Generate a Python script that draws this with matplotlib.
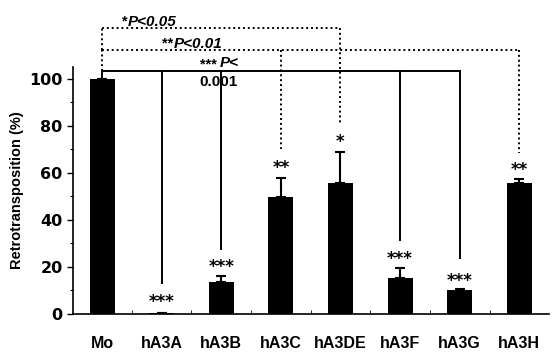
import numpy as np
import matplotlib.pyplot as plt

# Retrotransposition relative to Mo control
labels = ['Mo', 'hA3A', 'hA3B', 'hA3C', 'hA3DE', 'hA3F', 'hA3G', 'hA3H']
values = [100, 0.5, 13.6, 49.8, 55.5, 15.3, 10.2, 55.5]
errors = [0, 0, 2.6, 8.0, 13.5, 4.3, 0.3, 1.8]
stars = ['', '***', '***', '**', '*', '***', '***', '**']
star_y = [None, 6.8, 21.7, 64, 75, 25, 16, 63]

plt.rcParams['font.family'] = ['Liberation Sans', 'DejaVu Sans']
plt.rcParams['font.weight'] = 'bold'

fig = plt.figure(figsize=(5.53, 3.54), dpi=100)
ax = fig.add_axes([0.132, 0.113, 0.861, 0.698])

x = np.arange(len(labels))
ax.bar(x, values, width=0.42, color='black', zorder=2)
ax.errorbar(x, values, yerr=[np.zeros(len(errors)), errors], fmt='none',
            ecolor='black', elinewidth=1.5, capsize=3.5, capthick=1.5, zorder=1)

# asterisk glyphs sit high in the text box, so shift them down a bit
for i, s in enumerate(stars):
    if s:
        ax.text(x[i], star_y[i] - 1.8, s, ha='center', va='center', fontsize=12,
                fontweight='bold', family='DejaVu Sans')

ax.set_xlim(-0.487, 7.5)
ax.set_ylim(0, 105)
ax.set_yticks([0, 20, 40, 60, 80, 100])
ax.set_yticks([10, 30, 50, 70, 90], minor=True)
ax.set_xticks(x)
ax.set_xticklabels(labels, fontsize=11.5, fontweight='bold')
ax.set_xticks(x[:-1] + 0.5, minor=True)
ax.tick_params(axis='x', which='major', length=0, pad=16)
ax.tick_params(axis='x', which='minor', direction='in', length=3)
ax.tick_params(axis='y', which='major', length=4, width=1, labelsize=11.5)
ax.tick_params(axis='y', which='minor', length=2.5, width=0.8)
for lab in ax.get_yticklabels():
    lab.set_fontweight('bold')
    lab.set_family('DejaVu Sans')
ax.set_ylabel('Retrotransposition (%)', fontsize=10.5, fontweight='bold', labelpad=4)
ax.spines['top'].set_visible(False)
ax.spines['right'].set_visible(False)
ax.spines['left'].set_linewidth(1.2)
ax.spines['bottom'].set_linewidth(1.2)

dots = (0, (1, 1.5))

# solid bracket: ***P<0.001
solid_y = 103.4
ax.plot([0, 6], [solid_y, solid_y], color='black', lw=1.4, clip_on=False)
ax.plot([0, 0], [100, solid_y], color='black', lw=1.4, clip_on=False)
for xi, yend in [(1, 13), (2, 27.6), (5, 31.5), (6, 24)]:
    ax.plot([xi, xi], [solid_y, yend], color='black', lw=1.4, clip_on=False)
ax.text(1.645, solid_y - 0.3, '***', ha='left', va='bottom', fontsize=10.5, fontweight='bold')
ax.text(1.97, solid_y + 0.1, 'P<', ha='left', va='bottom', fontsize=11,
        fontweight='bold', fontstyle='italic')
ax.text(1.95, solid_y - 1.7, '0.001', ha='center', va='top', fontsize=11, fontweight='bold')

# dotted bracket: **P<0.01
d2_y = 112.3
ax.plot([0, 7], [d2_y, d2_y], color='black', lw=1.4, ls=dots, clip_on=False)
ax.plot([0, 0], [solid_y, d2_y], color='black', lw=1.4, ls=dots, clip_on=False)
ax.plot([3, 3], [d2_y, 70], color='black', lw=1.4, ls=dots, clip_on=False)
ax.plot([7, 7], [d2_y, 68.5], color='black', lw=1.4, ls=dots, clip_on=False)
ax.text(1.0, d2_y - 0.3, '**', ha='left', va='bottom', fontsize=10.5, fontweight='bold')
ax.text(1.21, d2_y - 0.5, 'P<0.01', ha='left', va='bottom', fontsize=11,
        fontweight='bold', fontstyle='italic')

# dotted bracket: *P<0.05
d1_y = 121.7
ax.plot([0, 4], [d1_y, d1_y], color='black', lw=1.4, ls=dots, clip_on=False)
ax.plot([0, 0], [d2_y, d1_y], color='black', lw=1.4, ls=dots, clip_on=False)
ax.plot([4, 4], [d1_y, 81], color='black', lw=1.4, ls=dots, clip_on=False)
ax.text(0.33, d1_y - 0.3, '*', ha='left', va='bottom', fontsize=10.5, fontweight='bold')
ax.text(0.43, d1_y - 0.5, 'P<0.05', ha='left', va='bottom', fontsize=11,
        fontweight='bold', fontstyle='italic')

fig.savefig('out.png', dpi=100)
